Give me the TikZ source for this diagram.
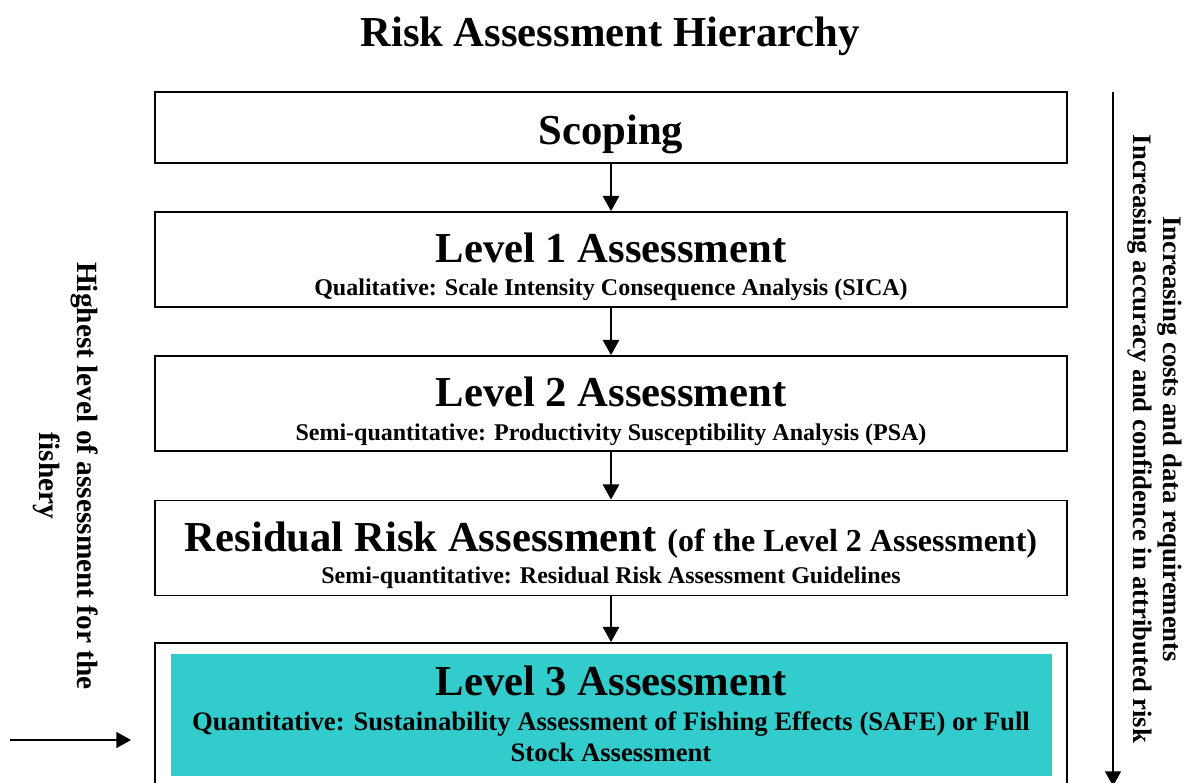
\documentclass[tikz,border=0pt]{standalone}
\usepackage{fontspec}
\setmainfont{Liberation Serif}
\usetikzlibrary{arrows.meta}
\definecolor{safeteal}{RGB}{51,204,204}
\tikzset{
  stage/.style={draw, line width=1.2pt, minimum width=684pt, minimum height=71.25pt, inner sep=0pt},
  head/.style={anchor=base, font=\fontsize{32}{38}\selectfont\bfseries},
  sub/.style={anchor=base, font=\fontsize{18}{23.25}\selectfont\bfseries},
  side/.style={rotate=-90, align=center, font=\fontsize{22}{28.5}\selectfont\bfseries},
  flow/.style={-{Triangle[length=11.5pt,width=12pt]}, line width=2.2pt},
}
\begin{document}
\begin{tikzpicture}[x=0.75pt, y=-0.75pt]
\useasboundingbox (0,0) rectangle (1189,782);
\node[head] (title) at (610,46) {Risk Assessment Hierarchy};
% boxes
\node[stage, minimum height=53.25pt] (scoping) at (611,127.5) {};
\node[stage] (lvlone) at (611,259.5) {};
\node[stage] (lvltwo) at (611,403.5) {};
\node[stage] (resid) at (611,548) {};
\node[stage, minimum height=120pt] (lvlthree) at (611,723) {};
\node[fill=safeteal, minimum width=660.75pt, minimum height=91.5pt, inner sep=0pt] (lvlthreefill) at (611.5,715) {};
% box texts
\node[head] (scopinghead) at (611,144) {Scoping};
\node[head] (lvlonehead) at (611,262) {Level 1 Assessment};
\node[sub] (lvlonesub) at (611,295) {Qualitative: Scale Intensity Consequence Analysis (SICA)};
\node[head] (lvltwohead) at (611,406) {Level 2 Assessment};
\node[sub] (lvltwosub) at (611,440) {Semi-quantitative: Productivity Susceptibility Analysis (PSA)};
\node[head] (residhead) at (611,551) {Residual Risk Assessment {\fontsize{24}{28}\selectfont (of the Level 2 Assessment)}};
\node[sub] (residsub) at (611,583) {Semi-quantitative: Residual Risk Assessment Guidelines};
\node[head] (lvlthreehead) at (611,695) {Level 3 Assessment};
\node[sub, anchor=center, align=center, font=\fontsize{20}{23.25}\selectfont\bfseries] (lvlthreesub) at (611,737) {Quantitative: Sustainability Assessment of Fishing Effects (SAFE) or Full\\Stock Assessment};
% arrows down the hierarchy
\foreach \a/\b in {scoping/lvlone, lvlone/lvltwo, lvltwo/resid, resid/lvlthree}
  \draw[flow] (\a) -- (\b);
% side notes
\coordinate (leftstart) at (10,740);
\coordinate (lefttip) at (131,740);
\draw[-{Triangle[length=11pt,width=12pt]}, line width=1.1pt] (leftstart) -- (lefttip);
\node[side] (leftnote) at (66,476) {Highest level of assessment for the\\fishery};
\coordinate (righttop) at (1113,92);
\coordinate (rightend) at (1113,786);
\draw[-{Triangle[length=11pt,width=12pt]}, line width=1.1pt] (righttop) -- (rightend);
\node[side, font=\fontsize{20}{22.5}\selectfont\bfseries] (rightnote) at (1155,439) {Increasing costs and data requirements\\Increasing accuracy and confidence in attributed risk};
\end{tikzpicture}
\end{document}
